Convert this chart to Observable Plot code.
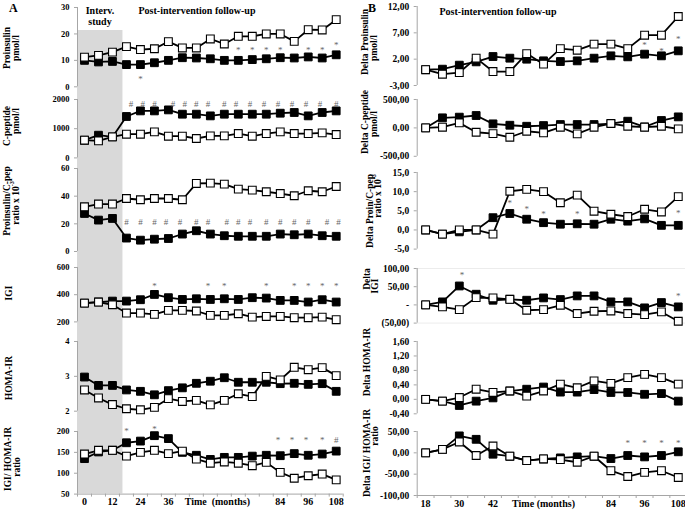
<!DOCTYPE html>
<html><head><meta charset="utf-8">
<script src="https://cdn.jsdelivr.net/npm/d3@7"></script>
<script src="https://cdn.jsdelivr.net/npm/@observablehq/plot@0.6"></script>
<style>
body{margin:0;background:#fff;}
#fig{position:relative;width:685px;height:510px;overflow:hidden;background:#fff;}
</style></head><body><div id="fig"></div>
<script>
// ---------- DATA ----------
const monthsA = [0,6,12,18,24,30,36,42,48,54,60,66,72,78,84,90,96,102,108];
const monthsB = [18,24,30,36,42,48,54,60,66,72,78,84,90,96,102,108];

const proinsulinBlack = [10.0,9.4,9.6,8.4,8.4,9.1,10.0,11.0,10.9,10.6,10.0,10.0,10.3,10.6,11.0,10.9,11.3,10.9,12.1];
const proinsulinOpen  = [11.2,11.9,13.1,15.2,14.1,14.4,17.1,14.7,14.7,18.1,16.2,19.1,19.1,20.0,20.0,17.2,21.6,21.5,25.4];
const cpeptideBlack = [606,777,719,1418,1610,1610,1644,1497,1497,1439,1497,1497,1497,1497,1531,1555,1439,1555,1610];
const cpeptideOpen  = [606,582,719,812,812,891,743,743,664,754,754,834,743,834,891,834,834,857,800];
const ratioBlack = [27.5,22.7,23.9,9.7,8.2,8.9,9.4,12.6,15.0,12.6,11.4,11.0,11.0,11.0,12.6,12.1,12.6,11.4,11.0];
const ratioOpen  = [32.3,34.3,34.3,38.3,37.4,38.3,38.3,37.4,49.2,49.4,48.7,45.1,44.4,43.2,41.9,40.3,43.9,43.2,47.0];
const igiBlack = [338,346,353,353,363,402,378,365,370,365,370,365,378,375,358,358,346,363,346];
const igiOpen  = [338,346,326,265,265,255,285,285,280,248,248,260,235,240,240,231,231,235,216];
const homaBlack = [2.98,2.74,2.74,2.61,2.57,2.47,2.59,2.67,2.80,2.86,2.96,2.83,2.83,2.83,2.79,2.80,2.77,2.79,2.57];
const homaOpen  = [2.61,2.38,2.19,2.07,2.04,2.11,2.36,2.28,2.31,2.18,2.31,2.50,2.42,3.00,2.90,3.26,3.19,3.25,3.02];
const igiHomaBlack = [135,151,155,173,177,190,183,150,143,133,138,138,141,143,142,147,143,146,153];
const igiHomaOpen  = [146,155,155,141,150,155,147,153,134,124,127,124,118,126,102,88,94,98,84];

const dProinsulinBlack = [0,0.1,0.86,1.49,2.5,2.19,2.0,1.68,1.55,1.68,2.19,2.63,2.44,2.95,2.63,3.58];
const dProinsulinOpen  = [0,-0.85,-0.54,2.19,-0.35,-0.35,3.06,1.05,4.0,3.7,4.85,4.85,4.0,6.55,6.55,10.1];
const dCpeptideBlack = [0,177,189,218,71,47,29,41,59,59,59,77,118,18,130,194];
const dCpeptideOpen  = [0,12,88,-77,-100,-165,-59,-88,12,-106,12,77,29,12,29,-18];
const dRatioBlack = [0,-1.1,-0.5,0,3.2,4.3,2.8,1.9,1.5,1.6,1.5,2.8,2.3,2.9,1.2,1.2];
const dRatioOpen  = [0,-1.1,0,0,-1.1,10.1,10.6,10.0,7.1,9.1,4.9,4.1,3.5,5.4,4.7,8.7];
const dIgiBlack = [0,8.2,52,29.3,12.8,15.4,12.8,19.2,14.6,24.7,24.7,8.2,8.2,-8.2,6.4,-5.5];
const dIgiOpen  = [0,-5.5,-12.9,20,19.2,15.4,-14.7,-12.9,-1,-23.8,-17.5,-16.6,-23.8,-26.6,-19.3,-45];
const dHomaBlack = [0,-0.05,-0.17,-0.05,0.04,0.23,0.28,0.34,0.20,0.20,0.27,0.19,0.19,0.14,0.16,-0.05];
const dHomaOpen  = [0,-0.05,0.05,0.28,0.19,0.23,0.09,0.23,0.42,0.32,0.51,0.44,0.60,0.69,0.60,0.42];
const dIgiHomaBlack = [0,8,39.7,31.7,-3.2,-7.9,-18.1,-14.3,-11.9,-9.5,-7.9,-13.4,-6.3,-9.5,-6.3,2.4];
const dIgiHomaOpen  = [0,8,25.5,-6.3,16,-7.9,-18.1,-14.3,-15.7,-22.1,-7.9,-41.9,-55.5,-45.9,-41.9,-57.8];

// significance marks: months, values, glyph
const sigA1Months = [24,66,72,78,84,96,102,108];
const sigA1Values = [3.8,14.5,14.5,14.5,14.5,14.5,14.5,16.4];
const sigA2Months = [20,25,30,38,43,48,53,60,65,71,77,83,89,95,101,108];
const sigA3Months = [18,24,30,35,41,48,53,61,66,71,78,84,90,96,104,109];
const sigA4Months = [30,53,60,78,90,96,102,108];
const sigA6Months = [18,30,83,89,95,102,108];
const sigA6Values = [206,211,185,185,185,185,185];
const sigA6Glyphs = ["*","*","*","*","*","*","#"];
const sigB1Months = [96,102,108];
const sigB1Values = [5.0,4.0,6.1];
const sigB3Months = [48,54,60,72,108];
const sigB3Values = [7.5,6.0,4.75,4.75,4.9];
const sigB4Months = [31,108];
const sigB4Values = [86,31];
const sigB6Months = [90,96,102,108];

// axis ticks
const interventionBand = [-3, 16.5];
const xBoundsA = d3.range(-3, 112, 6);
const xBoundsB = d3.range(15, 112, 6);
const xTicksA = [0,12,24,36,57,84,96,108];
const xLabelsA = ["0","12","24","36","Time  (months)","84","96","108"];
const xTicksB = [18,30,42,60,84,96,108];
const xLabelsB = ["18","30","42","Time (months)","84","96","108"];
const yTicksA1 = [0,10,20,30], yLabelsA1 = ["0","10","20","30"];
const yTicksA2 = [0,1000,2000], yLabelsA2 = ["0","1000","2000"];
const yTicksA3 = [0,20,40,60], yLabelsA3 = ["0","20","40","60"];
const yTicksA4 = [200,400,600], yLabelsA4 = ["200","400","600"];
const yTicksA5 = [2,3,4], yLabelsA5 = ["2","3","4"];
const yTicksA6 = [50,100,150,200], yLabelsA6 = ["50","100","150","200"];
const yTicksB1 = [-3,2,7,12], yLabelsB1 = ["-3,00","2,00","7,00","12,00"];
const yTicksB2 = [-500,0,500], yLabelsB2 = ["-500,00","0,00","500,00"];
const yTicksB3 = [-5,0,5,10,15], yLabelsB3 = ["-5,0","0,0","5,0","10,0","15,0"];
const yTicksB4 = [-50,0,50,100], yLabelsB4 = ["(50,00)","-","50,00","100,00"];
const yTicksB5 = [-0.4,0,0.4,0.8,1.2,1.6], yLabelsB5 = ["-0,40","0,00","0,40","0,80","1,20","1,60"];
const yTicksB6 = [-100,-50,0,50], yLabelsB6 = ["-100,00","-50,00","0,00","50,00"];

// ---------- DRAW ----------
const SERIF = "'Liberation Serif','Times New Roman',serif";
const axisGrey = "#a6a6a6";
const fig = document.getElementById("fig");

function place(svg, left, top) {
  svg.style.position = "absolute";
  svg.style.left = left + "px";
  svg.style.top = top + "px";
  fig.appendChild(svg);
}

const A = {left: 0, width: 345, ml: 77, mr: 2.3, xDomain: [-3, 111]};
const B = {left: 340, width: 347, ml: 76.7, mr: 0.8, xDomain: [15, 111]};

// background band
{
  const top = 30, bottom = 493.3;
  const svg = Plot.plot({
    width: A.width, height: bottom - top,
    marginLeft: A.ml, marginRight: A.mr, marginTop: 0, marginBottom: 0,
    x: {domain: A.xDomain, axis: null},
    style: {background: "transparent", overflow: "visible"},
    marks: [Plot.rect([interventionBand], {x1: d => d[0], x2: d => d[1], fill: "#d9d9d9"})]
  });
  place(svg, A.left, top);
}

function sig(months, values, glyphs) {
  return months.map((m, i) => ({m, v: Array.isArray(values) ? values[i] : values, g: Array.isArray(glyphs) ? glyphs[i] : glyphs}));
}

function panel(col, cfg) {
  const mt = 12, mb = cfg.xTicks ? 24 : 12;
  const height = cfg.bottom - cfg.top + mt + mb;
  const ymap = new Map(cfg.yTicks.map((t, i) => [t, cfg.yLabels[i]]));
  const months = cfg.months;
  const blk = months.map((m, i) => ({m, v: cfg.black[i]}));
  const opn = months.map((m, i) => ({m, v: cfg.open[i]}));
  const marks = [];
  if (cfg.frame) marks.push(Plot.frame({stroke: "#ececec"}));
  marks.push(Plot.ruleX([col.xDomain[0]], {stroke: axisGrey, strokeWidth: 1}));
  marks.push(Plot.axisY({ticks: cfg.yTicks, tickSize: 3, tickPadding: 5, label: null,
    tickFormat: d => ymap.get(d), fontSize: cfg.yFont, fontWeight: "bold", fontFamily: SERIF, stroke: axisGrey, fill: "black"}));
  if (cfg.xTicks) {
    const xmap = new Map(cfg.xTicks.map((t, i) => [t, cfg.xLabels[i]]));
    marks.push(Plot.ruleY([cfg.yDomain[0]], {stroke: axisGrey}));
    marks.push(Plot.axisX({ticks: cfg.xBounds, tickSize: 3, tickFormat: () => "", label: null, stroke: axisGrey}));
    marks.push(Plot.axisX({ticks: cfg.xTicks, tickSize: 0, tickPadding: 4, label: null,
      tickFormat: d => xmap.get(d), fontSize: 10, fontWeight: "bold", fontFamily: SERIF, fill: "black"}));
  }
  marks.push(Plot.line(blk, {x: "m", y: "v", stroke: "black", strokeWidth: 1.8}));
  marks.push(Plot.dot(blk, {x: "m", y: "v", symbol: "square", r: 4.4, fill: "black", stroke: "black", strokeWidth: 1}));
  marks.push(Plot.line(opn, {x: "m", y: "v", stroke: "black", strokeWidth: 1.8}));
  marks.push(Plot.dot(opn, {x: "m", y: "v", symbol: "square", r: 4.4, fill: "white", stroke: "black", strokeWidth: 1.1}));
  if (cfg.sig) {
    marks.push(Plot.text(cfg.sig, {x: "m", y: "v", text: "g", fill: "#666666", fontSize: 9, fontFamily: SERIF, dy: 2}));
  }
  const svg = Plot.plot({
    width: col.width, height,
    marginLeft: col.ml, marginRight: col.mr, marginTop: mt, marginBottom: mb,
    x: {domain: col.xDomain, axis: null},
    y: {domain: cfg.yDomain, axis: null},
    style: {background: "transparent", overflow: "visible", fontFamily: SERIF},
    marks
  });
  place(svg, col.left, cfg.top - mt);
}

// Panel A
panel(A, {top: 6.7, bottom: 86, yDomain: [0, 30], yTicks: yTicksA1, yLabels: yLabelsA1, yFont: 8.5,
  months: monthsA, black: proinsulinBlack, open: proinsulinOpen, sig: sig(sigA1Months, sigA1Values, "*")});
panel(A, {top: 99.3, bottom: 157.7, yDomain: [0, 2000], yTicks: yTicksA2, yLabels: yLabelsA2, yFont: 8.5,
  months: monthsA, black: cpeptideBlack, open: cpeptideOpen, sig: sig(sigA2Months, 1900, "#")});
panel(A, {top: 167.7, bottom: 250.7, yDomain: [0, 60], yTicks: yTicksA3, yLabels: yLabelsA3, yFont: 8.5,
  months: monthsA, black: ratioBlack, open: ratioOpen, sig: sig(sigA3Months, 23, "#")});
panel(A, {top: 267.3, bottom: 321.7, yDomain: [200, 600], yTicks: yTicksA4, yLabels: yLabelsA4, yFont: 8.5,
  months: monthsA, black: igiBlack, open: igiOpen, sig: sig(sigA4Months, 480, "*")});
panel(A, {top: 341, bottom: 410.7, yDomain: [2, 4], yTicks: yTicksA5, yLabels: yLabelsA5, yFont: 8.5,
  months: monthsA, black: homaBlack, open: homaOpen});
panel(A, {top: 430.7, bottom: 493.3, yDomain: [50, 200], yTicks: yTicksA6, yLabels: yLabelsA6, yFont: 8.5,
  months: monthsA, black: igiHomaBlack, open: igiHomaOpen, sig: sig(sigA6Months, sigA6Values, sigA6Glyphs),
  xTicks: xTicksA, xLabels: xLabelsA, xBounds: xBoundsA});

// Panel B
panel(B, {top: 6, bottom: 85, yDomain: [-3, 12], yTicks: yTicksB1, yLabels: yLabelsB1, yFont: 9.5,
  months: monthsB, black: dProinsulinBlack, open: dProinsulinOpen, sig: sig(sigB1Months, sigB1Values, "*")});
panel(B, {top: 98.7, bottom: 155.5, yDomain: [-500, 500], yTicks: yTicksB2, yLabels: yLabelsB2, yFont: 9.5,
  months: monthsB, black: dCpeptideBlack, open: dCpeptideOpen});
panel(B, {top: 171.7, bottom: 248.3, yDomain: [-5, 15], yTicks: yTicksB3, yLabels: yLabelsB3, yFont: 9.5,
  months: monthsB, black: dRatioBlack, open: dRatioOpen, sig: sig(sigB3Months, sigB3Values, "*")});
panel(B, {top: 267.7, bottom: 322.3, yDomain: [-50, 100], yTicks: yTicksB4, yLabels: yLabelsB4, yFont: 9.5,
  months: monthsB, black: dIgiBlack, open: dIgiOpen, sig: sig(sigB4Months, sigB4Values, "*"), frame: true});
panel(B, {top: 341, bottom: 413.3, yDomain: [-0.4, 1.6], yTicks: yTicksB5, yLabels: yLabelsB5, yFont: 9.5,
  months: monthsB, black: dHomaBlack, open: dHomaOpen});
panel(B, {top: 431, bottom: 495, yDomain: [-100, 50], yTicks: yTicksB6, yLabels: yLabelsB6, yFont: 9.5,
  months: monthsB, black: dIgiHomaBlack, open: dIgiHomaOpen, sig: sig(sigB6Months, 28, "*"),
  xTicks: xTicksB, xLabels: xLabelsB, xBounds: xBoundsB});

// ---------- TEXT OVERLAY ----------
const ov = d3.create("svg").attr("width", 685).attr("height", 510)
  .style("position", "absolute").style("left", "0px").style("top", "0px").style("overflow", "visible")
  .attr("font-family", SERIF).attr("font-weight", "bold");

function htext(x, y, str, size) {
  ov.append("text").attr("x", x).attr("y", y).attr("text-anchor", "middle")
    .attr("dominant-baseline", "central").attr("font-size", size).text(str);
}
function vtext(x, y, str, size, sup) {
  const t = ov.append("text").attr("transform", `translate(${x},${y}) rotate(-90)`)
    .attr("text-anchor", "middle").attr("dominant-baseline", "central").attr("font-size", size).text(str);
  if (sup) t.append("tspan").attr("font-size", size * 0.65).attr("dy", -size * 0.4).text(sup);
}

ov.append("text").attr("x", 9).attr("y", 12).attr("font-size", 12).text("A");
ov.append("text").attr("x", 368).attr("y", 11.5).attr("font-size", 12).text("B");
htext(100, 10, "Interv.", 10);
htext(100, 21.7, "study", 10);
htext(197, 10, "Post-intervention follow-up", 10);
htext(498, 11, "Post-intervention follow-up", 10);

const ts = 9.5;
vtext(6.5, 48, "Proinsulin", ts); vtext(15.5, 48, "pmol/l", ts);
vtext(6.5, 126, "C-peptide", ts); vtext(15.5, 121, "pmol/l", ts);
vtext(6.5, 201, "Proinsulin/C-pep", ts); vtext(15.5, 203, "ratio x 10", ts, "-3");
vtext(8.5, 293, "IGI", ts);
vtext(8.5, 378, "HOMA-IR", ts);
vtext(7.5, 459, "IGI/ HOMA-IR", ts); vtext(16.5, 467, "ratio", ts);

vtext(365, 42, "Delta Proinsulin", ts); vtext(373.5, 48, "pmol/l", ts);
vtext(365, 122, "Delta C-peptide", ts); vtext(373.5, 124, "pmol/l", ts);
vtext(369.5, 211, "Delta Proin/C-pep", ts); vtext(378, 196, "ratio x 10", ts, "-3");
vtext(366.5, 279, "Delta", ts); vtext(375, 286, "IGI", ts);
vtext(366.7, 362, "Delta HOMA-IR", ts);
vtext(366.7, 453, "Delta IGI/ HOMA-IR", ts); vtext(375, 436, "ratio", ts);

fig.appendChild(ov.node());
</script></body></html>
